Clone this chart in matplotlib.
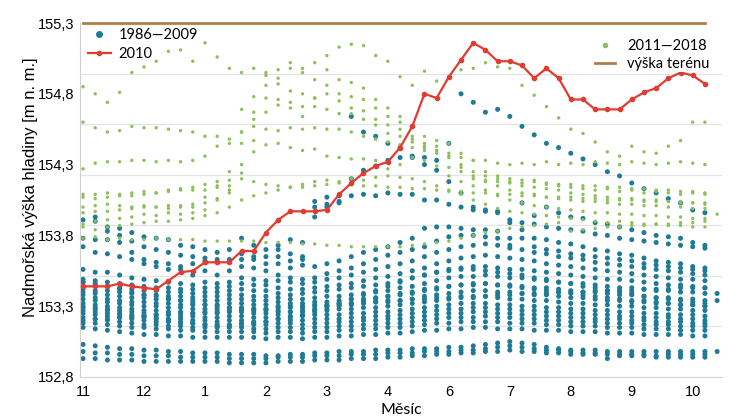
import numpy as np
import matplotlib.pyplot as plt
from matplotlib.lines import Line2D

nan = np.nan
BASE = 152.0  # all series below are in cm above 152 m

weeks = np.arange(53)
tick_weeks = [0, 5, 10, 15, 20, 25, 30, 35, 40, 45, 50]
tick_labels = ['11', '12', '1', '2', '3', '4', '6', '7', '8', '9', '10']
y_ticks = [152.8, 153.3, 153.8, 154.3, 154.8, 155.3]
terrain = 155.3

# 2010
y2010 = [144, 144, 144, 146, 144, 143, 142, 148, 154, 155,
         161, 161, 161, 169, 169, 182, 191, 197, 197, 197,
         198, 209, 217, 224, 229, 232, 242, 257, 280, 277,
         292, 304, 316, 311, 303, 303, 300, 291, 298, 291,
         276, 276, 269, 269, 269, 276, 281, 284, 291, 295,
         293, 287]

# 1986-2009
b01 = [172, 177, 177, 175, 168, 163, 161, 160, 158, 160, 162, 161, 161, 163, 163, 160, 165, 162, 163, 193,
       202, 204, 264, 253, 250, 245, 242, 235, 235, 233, 245, 280, 274, 267, 269, 264, 257, 251, 245, 242,
       238, 234, 230, 225, 222, 217, 213, 210, 206, 203, 198, 196, nan]
b02 = [178, 190, 183, 180, 176, 172, 170, 168, 166, 165, 164, 163, 163, 167, 165, 165, 170, 167, 165, 200,
       200, 203, 220, 226, 229, 233, 235, 236, 230, 226, 218, 210, 200, 197, 196, 191, 189, 188, 186, 185,
       184, 183, 181, 180, 178, 177, 176, 175, 174, 173, 172, 171, nan]
b03 = [191, 193, 186, 185, 182, 179, 178, 177, 173, 172, 170, 168, 170, 178, 173, 170, 173, 177, 175, 204,
       207, 208, 208, 209, 208, 210, 209, 209, 205, 205, 202, 200, 198, 198, 197, 189, 203, 194, 200, 196,
       193, 192, 189, 188, 186, 184, 182, 180, 179, 178, 175, 173, nan]
b04 = [156, 168, 167, 165, 163, 160, 158, 156, 156, 152, 155, 152, 155, 158, 157, 155, 160, 157, 159, 158,
       160, 162, 165, 168, 170, 172, 175, 178, 185, 186, 186, 185, 184, 184, 183, 178, 184, 178, 177, 175,
       174, 172, 170, 169, 167, 166, 164, 162, 161, 160, 158, 157, nan]
b05 = [149, 154, 154, 152, 150, 149, 148, 147, 146, 145, 147, 146, 147, 150, 149, 148, 152, 150, 149, 150,
       153, 155, 157, 160, 163, 166, 168, 170, 172, 176, 179, 180, 180, 179, 178, 173, 178, 172, 170, 169,
       167, 166, 165, 164, 163, 162, 160, 159, 158, 157, 156, 155, 139]
b06 = [147, 148, 147, 146, 145, 144, 143, 143, 142, 142, 143, 143, 144, 146, 145, 145, 148, 147, 146, 147,
       149, 150, 152, 154, 156, 158, 160, 162, 165, 168, 170, 172, 173, 174, 173, 171, 170, 168, 167, 165,
       164, 163, 161, 160, 159, 158, 157, 156, 155, 154, 153, 152, 134]
b07 = [144, 145, 144, 143, 142, 141, 141, 140, 140, 139, 140, 140, 141, 142, 141, 141, 143, 142, 142, 143,
       144, 145, 146, 148, 150, 151, 153, 155, 157, 160, 162, 164, 165, 166, 165, 164, 163, 162, 160, 159,
       158, 157, 156, 155, 154, 153, 152, 151, 150, 149, 149, 148, nan]
b08 = [142, 141, 141, 140, 139, 138, 138, 137, 137, 136, 137, 137, 138, 138, 137, 137, 139, 138, 139, 140,
       141, 142, 143, 144, 145, 146, 148, 150, 152, 154, 156, 157, 158, 158, 157, 156, 156, 155, 154, 153,
       152, 151, 150, 149, 149, 148, 147, 146, 145, 145, 144, 143, nan]
b09 = [140, 139, 138, 137, 136, 136, 135, 135, 134, 134, 134, 134, 135, 135, 134, 134, 136, 135, 135, 136,
       137, 137, 138, 139, 140, 141, 143, 144, 146, 148, 150, 151, 151, 152, 151, 150, 150, 149, 148, 147,
       146, 146, 145, 144, 143, 143, 142, 141, 141, 140, 140, 139, nan]
b10 = [138, 136, 135, 134, 133, 133, 132, 132, 131, 131, 131, 131, 132, 132, 131, 131, 133, 132, 132, 133,
       133, 134, 135, 135, 136, 137, 138, 139, 141, 142, 144, 145, 146, 146, 145, 145, 144, 143, 143, 142,
       141, 140, 140, 139, 138, 138, 137, 136, 136, 135, 135, 134, nan]
b11 = [135, 134, 133, 132, 131, 130, 130, 129, 129, 128, 128, 128, 129, 129, 128, 128, 130, 129, 129, 130,
       130, 131, 131, 132, 133, 133, 134, 135, 137, 138, 139, 140, 141, 141, 140, 140, 139, 138, 138, 137,
       136, 136, 135, 134, 134, 133, 133, 132, 132, 131, 131, 130, nan]
b12 = [132, 131, 130, 129, 128, 127, 127, 126, 126, 125, 125, 125, 126, 126, 125, 125, 127, 126, 126, 127,
       127, 128, 128, 129, 129, 130, 131, 132, 133, 134, 135, 136, 136, 137, 136, 135, 135, 134, 134, 133,
       132, 132, 131, 131, 130, 130, 129, 129, 128, 128, 127, 127, nan]
b13 = [130, 129, 128, 127, 126, 125, 124, 124, 123, 123, 122, 122, 123, 123, 122, 122, 124, 123, 123, 124,
       124, 124, 125, 125, 126, 126, 127, 128, 129, 130, 131, 132, 132, 132, 131, 131, 130, 130, 129, 129,
       128, 128, 127, 127, 126, 126, 125, 125, 124, 124, 124, 123, nan]
b14 = [127, 126, 125, 124, 123, 122, 122, 121, 121, 120, 120, 119, 120, 120, 119, 119, 121, 120, 120, 121,
       121, 121, 122, 122, 123, 123, 124, 125, 126, 127, 128, 128, 129, 129, 128, 128, 127, 127, 126, 126,
       125, 125, 124, 124, 123, 123, 122, 122, 122, 121, 121, 120, nan]
b15 = [125, 124, 123, 122, 121, 120, 119, 119, 118, 118, 117, 117, 117, 118, 117, 117, 118, 118, 117, 118,
       118, 119, 119, 120, 120, 121, 121, 122, 123, 124, 125, 125, 126, 126, 125, 125, 124, 124, 123, 123,
       122, 122, 121, 121, 121, 120, 120, 119, 119, 119, 118, 118, nan]
b16 = [122, 121, 120, 119, 118, 117, 117, 116, 116, 115, 115, 115, 115, 115, 114, 114, 115, 115, 114, 115,
       115, 116, 116, 117, 117, 118, 118, 119, 120, 121, 122, 122, 122, 123, 122, 122, 121, 121, 120, 120,
       119, 119, 119, 118, 118, 118, 117, 117, 117, 116, 116, 116, nan]
b17 = [118, 118, 117, 116, 115, 115, 114, 114, 113, 113, 112, 112, 112, 112, 112, 111, 112, 112, 111, 112,
       112, 113, 113, 114, 114, 115, 115, 116, 117, 118, 118, 119, 119, 119, 119, 118, 118, 118, 117, 117,
       116, 116, 116, 115, 115, 115, 114, 114, 114, 113, 113, 113, nan]
b18 = [115, 114, 113, 112, 111, 110, 110, 109, 109, 108, 108, 108, 108, 108, 108, 107, 108, 108, 107, 108,
       108, 109, 109, 110, 110, 111, 111, 112, 113, 113, 114, 114, 115, 115, 114, 114, 114, 113, 113, 113,
       112, 112, 112, 111, 111, 111, 110, 110, 110, 110, 109, 109, nan]
b19 = [147, 146, 144, 142, 140, 138, 137, 135, 134, 132, 131, 130, 129, 128, 127, 127, 126, 126, 127, 128,
       130, 132, 135, 138, 141, 144, 147, 150, 152, 154, 155, 156, 156, 155, 154, 153, 152, 150, 149, 147,
       146, 144, 143, 141, 140, 139, 137, 136, 135, 134, 133, 132, nan]
b20 = [129, 128, 127, 125, 124, 123, 121, 120, 119, 118, 117, 116, 116, 117, 118, 119, 121, 122, 124, 126,
       128, 130, 132, 134, 135, 137, 139, 140, 142, 143, 144, 145, 145, 146, 145, 144, 143, 142, 141, 140,
       139, 138, 137, 136, 135, 134, 134, 133, 132, 131, 131, 130, nan]
b21 = [120, 121, 121, 122, 122, 123, 124, 124, 125, 125, 126, 126, 127, 127, 128, 128, 129, 130, 130, 131,
       131, 132, 132, 133, 133, 134, 134, 135, 135, 136, 136, 137, 137, 137, 138, 138, 139, 139, 139, 140,
       140, 140, 141, 141, 141, 141, 142, 142, 142, 143, 143, 143, nan]
b22 = [103, 102, 101, 100, 100, 99, 99, 98, 98, 97, 97, 97, 96, 96, 96, 95, 95, 96, 96, 97,
       97, 98, 98, 98, 99, 99, 99, 100, 100, 100, 101, 101, 102, 103, 104, 105, 104, 103, 101, 100,
       99, 99, 99, 98, 98, 98, 98, 98, 98, 98, 98, 98, 98]
b23 = [98, 97, 97, 96, 96, 95, 95, 95, 94, 94, 94, 94, 93, 93, 93, 93, 94, 94, 94, 95,
       95, 95, 96, 96, 96, 97, 97, 97, 98, 98, 98, 99, 99, 100, 101, 102, 101, 100, 99, 99,
       98, 97, 97, 96, 96, 96, 96, 95, 96, 96, 96, 96, nan]
b24 = [93, 93, 92, 92, 92, 91, 91, 91, 91, 91, 91, 91, 90, 90, 90, 90, 91, 91, 91, 92,
       92, 92, 93, 93, 93, 94, 94, 95, 95, 96, 96, 97, 97, 98, 98, 99, 98, 98, 97, 97,
       96, 96, 96, 93, 95, 95, 95, 94, 94, 94, 94, 94, nan]

# 2011-2018
g01 = [285, 280, 274, 281, 295, 299, 303, 310, 311, 303, 316, 306, 298, 295, 298, 295, 297, 302, 298, 302,
       307, 313, 315, 314, 307, 303, 292, 286, 296, 289, 292, 297, 298, 302, 299, 298, 286, 279, 271, 263,
       255, 252, 246, 239, 236, 243, 239, 238, 243, 247, 260, 260, nan]
g02 = [260, 256, 253, 254, 257, 256, 256, 255, 254, 253, 250, 250, 248, 253, 257, 255, 254, 256, 255, 256,
       255, 255, 253, 250, 248, 246, 244, 242, 240, 238, 236, 235, 233, 233, 231, 230, 231, 230, 232, 230,
       231, 230, 232, 231, 230, 232, 231, 230, 231, 232, 231, 230, nan]
g03 = [227, 231, 232, 232, 233, 233, 232, 233, 232, 233, 236, 243, 245, 253, 267, 277, 276, 274, 271, 277,
       286, 280, 278, 276, 270, 264, 260, 250, 245, 243, 238, 230, 225, 222, 220, 218, 217, 219, 216, 215,
       214, 213, 212, 213, 211, 212, 210, 211, 210, 209, 210, 209, nan]
g04 = [209, 209, 210, 209, 210, 211, 210, 211, 212, 212, 212, 214, 215, 230, 247, 267, 272, 270, 264, 271,
       269, 266, 270, 268, 262, 258, 255, 248, 242, 240, 228, 225, 220, 219, 218, 217, 215, 214, 213, 212,
       210, 209, 208, 207, 206, 206, 205, 205, 204, 204, 203, 203, nan]
g05 = [200, 201, 202, 201, 200, 201, 200, 201, 200, 202, 207, 215, 225, 245, 262, 293, 291, 298, 295, 290,
       297, 290, 288, 284, 276, 270, 264, 257, 250, 247, 245, 238, 233, 225, 222, 220, 219, 218, 217, 216,
       216, 215, 215, 214, 214, 213, 213, 212, 212, 211, 211, 210, nan]
g06 = [196, 197, 197, 198, 199, 200, 200, 199, 201, 200, 203, 206, 212, 269, 278, 286, 287, 282, 280, 277,
       280, 275, 266, 262, 258, 252, 250, 246, 243, 240, 235, 228, 222, 218, 215, 212, 210, 209, 207, 206,
       205, 204, 204, 203, 202, 202, 201, 201, 200, 200, 199, 199, nan]
g07 = [188, 190, 191, 192, 193, 195, 194, 196, 195, 196, 198, 205, 210, 224, 239, 244, 245, 242, 240, 241,
       236, 235, 234, 234, 233, 227, 230, 235, 233, 229, 222, 218, 215, 212, 208, 205, 203, 201, 200, 199,
       198, 197, 196, 196, 195, 195, 194, 194, 193, 193, 192, 192, nan]
g08 = [186, 184, 186, 187, 188, 189, 190, 190, 191, 192, 194, 196, 200, 205, 208, 210, 212, 214, 216, 218,
       219, 218, 220, 219, 221, 222, 221, 220, 218, 215, 212, 209, 205, 202, 199, 197, 196, 195, 194, 193,
       192, 191, 190, 189, 190, 189, 188, 188, 187, 187, 186, 186, 195]
g09 = [178, 179, 177, 178, 177, 177, 178, 177, 177, 177, 176, 176, 176, 176, 176, 175, 175, 175, 174, 174,
       173, 173, 172, 172, 172, 172, 172, 173, 174, 175, 176, 178, 180, 182, 183, 185, 186, 187, 188, 189,
       183, 184, 185, 186, 186, 187, 187, 188, 188, 189, 189, 190, nan]
g10 = [207, 206, 207, 208, 208, 209, 210, 212, 213, 214, 216, 218, 219, 220, 218, 216, 215, 214, 214, 215,
       216, 217, 216, 215, 215, 214, 214, 213, 213, 212, 211, 211, 210, 210, 209, 209, 208, 208, 207, 207,
       207, 206, 206, 205, 205, 205, 204, 204, 204, 203, 203, 202, nan]

blue_traces = [b01, b02, b03, b04, b05, b06, b07, b08, b09, b10, b11, b12,
               b13, b14, b15, b16, b17, b18, b19, b20, b21, b22, b23, b24]
green_traces = [g01, g02, g03, g04, g05, g06, g07, g08, g09, g10]

BLUE = '#1f7a95'
GREEN = '#8cc05c'
RED = '#e03c31'
BROWN = '#b07e4c'

def to_m(trace):
    return BASE + np.array(trace, dtype=float) / 100

fig = plt.figure(figsize=(7.29, 4.2), dpi=100)
ax = fig.add_axes([0.1097, 0.1024, 0.8807, 0.8428])

# grid splits the axis into 7 equal parts
for k in range(1, 7):
    ax.axhline(152.8 + k * 2.5 / 7, color='#e4e4e4', lw=0.9, zorder=0)

for tr in blue_traces:
    ax.scatter(weeks, to_m(tr), s=13, color=BLUE, edgecolors='none', zorder=2)
for tr in green_traces:
    ax.scatter(weeks, to_m(tr), s=6, color=GREEN, edgecolors='none', zorder=3)

ax.plot(weeks[:52], to_m(y2010), color=RED, lw=1.6, marker='o', ms=3,
        zorder=4)
ax.plot([weeks[0], weeks[51]], [terrain, terrain], color=BROWN, lw=2,
        clip_on=False, zorder=3)

ax.set_xlim(-0.25, 52.4)
ax.set_ylim(152.8, 155.3)
ax.set_xticks(tick_weeks)
ax.set_xticklabels(tick_labels)
ax.set_yticks(y_ticks)
ax.set_yticklabels([f'{v:.1f}'.replace('.', ',') for v in y_ticks])
ax.tick_params(length=0, labelsize=10.5)
ax.tick_params(axis='x', pad=5.5)
ax.tick_params(axis='y', pad=4.3)
for lab in ax.get_xticklabels() + ax.get_yticklabels():
    lab.set_family('Liberation Sans')

for s in ['top', 'right']:
    ax.spines[s].set_visible(False)
for s in ['left', 'bottom']:
    ax.spines[s].set_color('#d0d0d0')

ax.set_ylabel('Nadmořská výška hladiny [m n. m.]', fontsize=12,
              family='Liberation Sans')
ax.yaxis.set_label_coords(-0.066, 0.537)
ax.set_xlabel('Měsíc', fontsize=11.5, family='Lato', labelpad=3)

leg_font = {'family': 'Lato', 'size': 10.5}
h_blue = Line2D([], [], ls='none', marker='o', ms=4, color=BLUE)
h_red = Line2D([], [], color=RED, lw=1.6, marker='o', ms=3)
leg1 = ax.legend([h_blue, h_red], ['1986—2009', '2010'], loc='upper left',
                 bbox_to_anchor=(0.012, 0.985), prop=leg_font, frameon=False,
                 handlelength=1.6, handletextpad=0.5, labelspacing=0.35,
                 borderpad=0, borderaxespad=0)
ax.add_artist(leg1)

h_green = Line2D([], [], ls='none', marker='o', ms=3, color=GREEN)
h_brown = Line2D([], [], color=BROWN, lw=2)
leg2 = ax.legend([h_green, h_brown], ['2011—2018', 'výška terénu'],
                 loc='upper left', bbox_to_anchor=(0.80, 0.96), prop=leg_font,
                 frameon=True, facecolor='white', edgecolor='none',
                 framealpha=1, handlelength=1.4, handletextpad=0.8,
                 labelspacing=0.3, borderpad=0.1, borderaxespad=0)

fig.savefig('out.png', dpi=100)
